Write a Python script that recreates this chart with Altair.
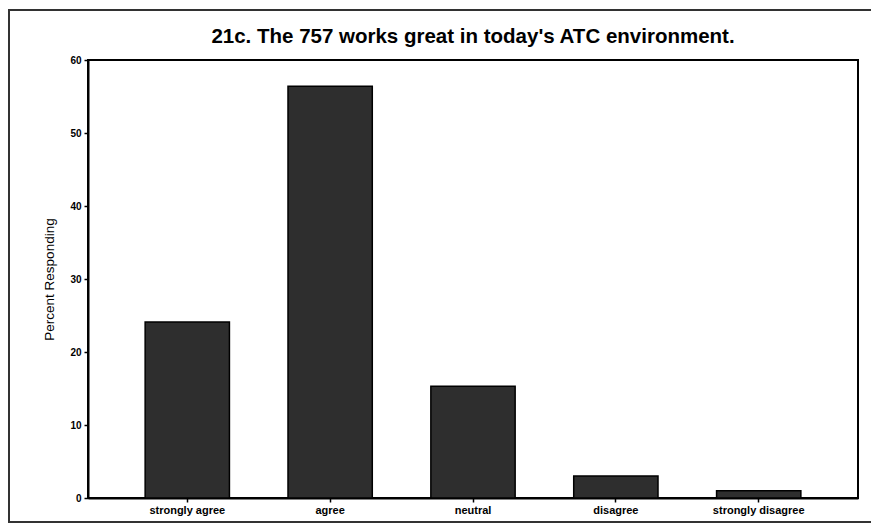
import altair as alt
import pandas as pd

categories = ["strongly agree", "agree", "neutral", "disagree", "strongly disagree"]
percent = [24.1, 56.4, 15.3, 3.0, 1.0]
y_ticks = [0, 10, 20, 30, 40, 50, 60]

df = pd.DataFrame({"response": categories, "percent": percent})

FONT = "Liberation Sans"

bars = alt.Chart(df).mark_bar(
    color="#2e2e2e", stroke="#000000", strokeWidth=1.5
).encode(
    x=alt.X(
        "response:N",
        sort=categories,
        title=None,
        scale=alt.Scale(paddingInner=0.41, paddingOuter=0.4),
        axis=alt.Axis(
            labelAngle=0,
            labelFont=FONT,
            labelFontSize=11,
            labelFontWeight="bold",
            labelColor="#000",
            tickSize=4,
            tickColor="#000",
            tickWidth=1.5,
            domainColor="#000",
            domainWidth=2,
            labelPadding=2,
        ),
    ),
    y=alt.Y(
        "percent:Q",
        title="Percent Responding",
        scale=alt.Scale(domain=[0, 60], nice=False),
        axis=alt.Axis(
            values=y_ticks,
            grid=False,
            labelFont=FONT,
            labelFontSize=10,
            labelFontWeight="bold",
            labelColor="#000",
            tickSize=4,
            tickColor="#000",
            tickWidth=1.5,
            domainColor="#000",
            domainWidth=2,
            titleFont=FONT,
            titleFontSize=13.5,
            titleFontWeight="normal",
            titleColor="#000",
            titlePadding=13,
            labelPadding=3,
        ),
    ),
)

frame = alt.Chart(df).mark_rect(
    fill=None, stroke="#333333", strokeWidth=1.5
).encode(
    x=alt.value(-79), x2=alt.value(785), y=alt.value(-50), y2=alt.value(462)
)

chart = alt.layer(frame, bars).properties(
    width=770,
    height=438,
    autosize=alt.AutoSizeParams(type="none"),
    padding={"left": 80, "top": 52, "right": 13, "bottom": 25},
    title=alt.TitleParams(
        "21c. The 757 works great in today's ATC environment.",
        font=FONT,
        fontSize=20.5,
        fontWeight="bold",
        color="#000",
        anchor="middle",
        offset=-38,
    ),
).configure_view(
    stroke="#000", strokeWidth=2
)

chart.save("out.html", embed_options={"renderer": "svg", "actions": False})
